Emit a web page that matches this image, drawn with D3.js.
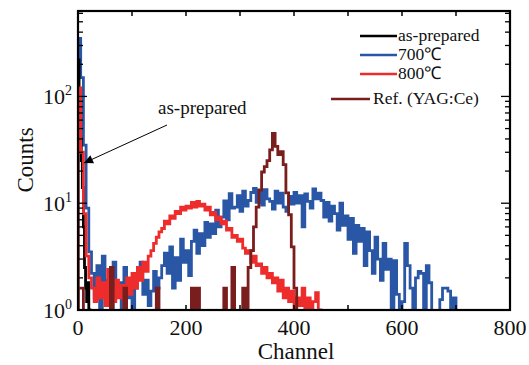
<!DOCTYPE html>
<html>
<head>
<meta charset="utf-8">
<script src="https://cdn.jsdelivr.net/npm/d3@7"></script>
<style>
  html, body { margin: 0; padding: 0; background: #fff; }
  svg { display: block; font-family: "Liberation Serif", "Times New Roman", serif; }
</style>
</head>
<body>
<svg id="chart" width="529" height="365"></svg>
<script>
// Pulse-height spectra, counts per channel (log scale).
// Binned histograms: value i covers channel i*bin .. (i+1)*bin
const BIN = 5;
const counts700 = [
  350, 150, 35, 9, 3.5, 2.2, 1.3, 2.6, 1.0, 3.2, 1.5, 1.9, 1.0, 2.8, 1.4, 1.8, 1.0, 2.5, 1.3, 1.7,
  1.0, 1.6, 2.2, 2.8, 1.4, 1.9, 1.1, 1.5, 2.3, 1.6, 2.0, 2.6, 3.4, 2.2, 3.9, 1.6, 3.1, 1.9, 4.6, 2.8,
  3.6, 2.1, 4.4, 5.6, 3.4, 5.2, 4.0, 6.6, 4.8, 6.4, 5.2, 8.6, 6.0, 7.4, 10.5, 7.0, 12.3, 9.0, 9.2, 11.8,
  8.4, 13.0, 9.4, 10.6, 12.6, 13.8, 10.2, 13.2, 9.6, 13.4, 11.0, 10.4, 8.8, 13.0, 10.0, 12.4, 9.2, 8.4, 11.6, 9.8,
  12.6, 10.0, 11.8, 6.0, 12.2, 10.4, 9.0, 13.6, 11.0, 12.4,
  10.6, 7.4, 10.2, 6.8, 9.4, 8.0, 5.6, 10.0, 6.2, 7.6, 4.6, 7.2, 3.4, 6.2, 4.4, 5.8, 2.6, 5.4, 3.6, 2.2,
  4.8, 3.0, 1.9, 4.2, 2.4, 3.0, 1.0, 2.9, 1.4, 1.0, 1.2, 4.2, 2.6, 1.6, 0, 2.0, 2.3, 2.2, 0, 2.6,
  1.8, 0, 0, 0, 1.25, 1.6, 1.6, 1.5, 0, 1.3, 0
];
const counts800 = [
  120, 30, 8, 3.2, 2.0, 1.6, 1.2, 2.0, 1.3, 1.8, 1.1, 2.4, 1.5, 1.2, 1.9, 1.3, 1.7, 1.1, 2.0, 1.4,
  2.2, 1.6, 2.5, 1.9, 2.8, 2.3, 3.2, 3.6, 4.2, 4.8, 5.4, 5.8, 6.8, 6.4, 7.6, 7.2, 8.4, 8.0, 9.2, 8.6,
  9.4, 9.0, 10.2, 9.2, 10.4, 9.4, 9.8, 8.6, 9.2, 7.8, 8.2, 7.0, 7.4, 6.4, 6.8, 5.6, 5.8, 4.8, 5.0, 4.4,
  4.6, 3.8, 3.4, 3.6, 2.8, 3.2, 2.6, 2.7, 2.2, 2.5, 2.0, 2.2, 1.8, 2.0, 1.5, 1.9, 1.3, 1.6, 1.2, 1.5,
  1.0, 1.3, 1.1, 1.6, 1.0, 1.3, 0, 1.2, 1.45, 1.0, 0
];
const countsRef = [
  1.6, 1.6, 0, 0, 0, 0, 0, 0, 0, 0, 0, 0, 2.5, 0, 0, 0, 0, 1.6, 0, 0,
  0, 0, 0, 0, 0, 0, 0, 0, 0, 1.6, 0, 0, 0, 0, 0, 0, 0, 0, 0, 0,
  0, 0, 1.6, 0, 1.6, 0, 0, 0, 0, 0, 0, 0, 0, 0, 1.6, 0, 0, 2.5, 0, 0,
  0, 1.6, 0, 2.5, 3.6, 6.0, 9.2, 13.3, 19.6, 22, 25, 31.6, 45, 34, 28.5, 30.4, 23, 12.5, 7.8, 3.9,
  1.6, 0
];
const BIN_AS = 2;
const countsAsPrepared = [220, 90, 40, 25, 14, 6, 2.5, 1.6, 1.2, 1.8, 1.0, 0];

const series = [
  { name: "700℃", values: counts700, bin: BIN, color: "#2a56a6" },
  { name: "as-prepared", values: countsAsPrepared, bin: BIN_AS, color: "#000000" },
  { name: "800℃", values: counts800, bin: BIN, color: "#ee2c2c" },
  { name: "Ref. (YAG:Ce)", values: countsRef, bin: BIN, color: "#7a1d1d" },
];
const legendOrder = ["as-prepared", "700℃", "800℃", "Ref. (YAG:Ce)"];
const xTickValues = [0, 200, 400, 600, 800];
const yDecades = [1, 10, 100];

const svg = d3.select("#chart");
const M = { left: 78, right: 510, top: 11, bottom: 310 };
const x = d3.scaleLinear().domain([0, 800]).range([M.left, M.right]);
const y = d3.scaleLog().domain([1, 631]).range([M.bottom, M.top]);
const yv = v => y(v > 0 ? v : 0.3);

svg.append("clipPath").attr("id", "plot")
  .append("rect").attr("x", M.left).attr("y", M.top)
  .attr("width", M.right - M.left).attr("height", M.bottom - M.top);

// histogram traces
const line = d3.line().x(d => x(d[0])).y(d => yv(d[1])).curve(d3.curveStepAfter);
const gData = svg.append("g").attr("clip-path", "url(#plot)");
series.forEach(s => {
  const pts = [[0, 0]];
  s.values.forEach((v, i) => pts.push([i * s.bin, v]));
  pts.push([s.values.length * s.bin, 0]);
  gData.append("path")
    .attr("d", line(pts))
    .attr("fill", "none").attr("stroke", s.color)
    .attr("stroke-width", 2.8).attr("stroke-linejoin", "miter");
});

// frame + inward ticks
const gAx = svg.append("g").attr("stroke", "#000");
d3.range(0, 801, 100).forEach(t => {
  gAx.append("line").attr("x1", x(t)).attr("x2", x(t))
    .attr("y1", M.bottom).attr("y2", M.bottom - 5).attr("stroke-width", 1.5);
  gAx.append("line").attr("x1", x(t)).attr("x2", x(t))
    .attr("y1", M.top).attr("y2", M.top + 5).attr("stroke-width", 1.5);
});
y.ticks().filter(t => t <= 631).forEach(t => {
  const major = yDecades.includes(t);
  const len = major ? 9 : 5;
  gAx.append("line").attr("x1", M.left).attr("x2", M.left + len)
    .attr("y1", y(t)).attr("y2", y(t)).attr("stroke-width", 1.3);
  gAx.append("line").attr("x1", M.right).attr("x2", M.right - len)
    .attr("y1", y(t)).attr("y2", y(t)).attr("stroke-width", 1.3);
});
gAx.append("rect").attr("x", M.left).attr("y", M.top)
  .attr("width", M.right - M.left).attr("height", M.bottom - M.top)
  .attr("fill", "none").attr("stroke-width", 2.2);

// tick labels
svg.append("g").selectAll("text").data(xTickValues).join("text")
  .attr("x", d => x(d)).attr("y", 335).attr("text-anchor", "middle")
  .attr("font-size", 22).attr("fill", "#111").text(d => d);
const yl = svg.append("g").selectAll("text").data(yDecades).join("text")
  .attr("x", 72).attr("y", d => y(d) + 8).attr("text-anchor", "end")
  .attr("font-size", 22).attr("fill", "#111");
yl.append("tspan").text("10");
yl.append("tspan").attr("dy", -9).attr("font-size", 14).text(d => Math.round(Math.log10(d)));

// axis titles
svg.append("text").attr("x", 296).attr("y", 359).attr("text-anchor", "middle")
  .attr("font-size", 23).attr("fill", "#111").text("Channel");
svg.append("text").attr("transform", "translate(33,160) rotate(-90)")
  .attr("text-anchor", "middle").attr("font-size", 23).attr("fill", "#111").text("Counts");

// legend
const legendY = [36, 55, 74, 99];
legendOrder.forEach((name, i) => {
  const s = series.find(d => d.name === name);
  const ref = i === 3;
  const x0 = ref ? 331 : 360, x1 = ref ? 370 : 397;
  svg.append("line").attr("x1", x0).attr("x2", x1)
    .attr("y1", legendY[i]).attr("y2", legendY[i])
    .attr("stroke", s.color).attr("stroke-width", 2.6);
  svg.append("text").attr("x", x1 + (ref ? 3 : 1)).attr("y", legendY[i] + 5)
    .attr("font-size", 17.5).attr("fill", "#111").text(name);
});

// annotation arrow
svg.append("defs").append("marker").attr("id", "head")
  .attr("viewBox", "0 0 10 10").attr("refX", 10).attr("refY", 5)
  .attr("markerWidth", 16).attr("markerHeight", 9).attr("markerUnits", "userSpaceOnUse")
  .attr("orient", "auto")
  .append("path").attr("d", "M0,0 L10,5 L0,10 Z").attr("fill", "#000");
svg.append("line").attr("x1", 167).attr("y1", 125).attr("x2", 84).attr("y2", 163)
  .attr("stroke", "#000").attr("stroke-width", 1).attr("marker-end", "url(#head)");
svg.append("text").attr("x", 158).attr("y", 114).attr("font-size", 19)
  .attr("fill", "#111").text("as-prepared");
</script>
</body>
</html>
